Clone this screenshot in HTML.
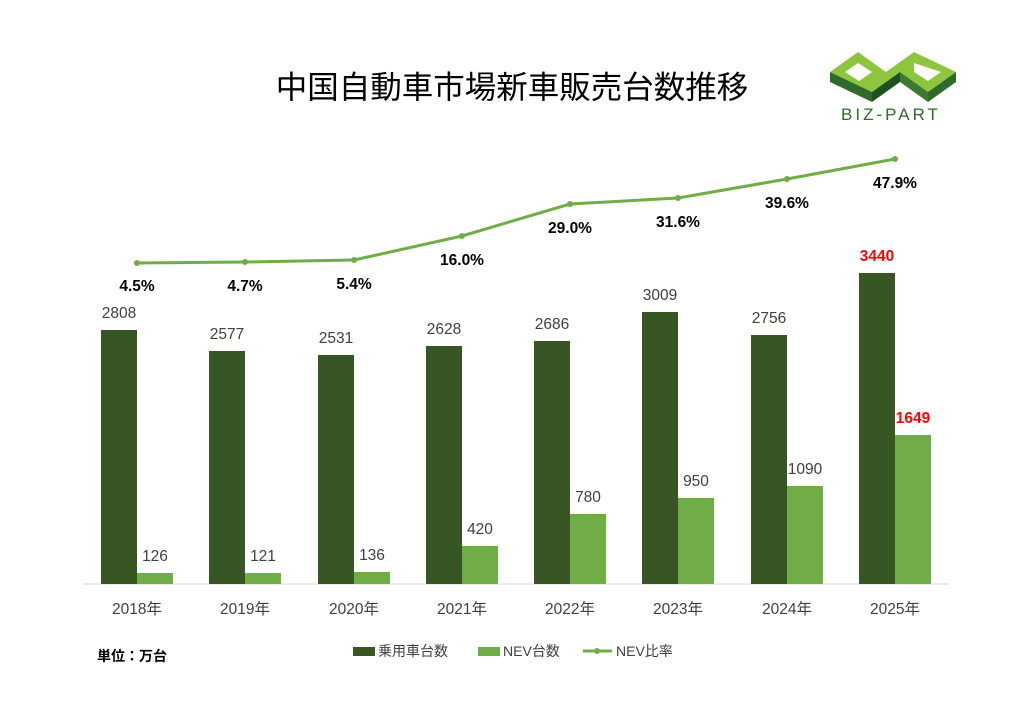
<!DOCTYPE html>
<html><head><meta charset="utf-8"><style>
body{margin:0;background:#fff}
svg text{font-family:"Liberation Sans","Noto Sans CJK JP",sans-serif}
</style></head><body>
<svg width="1024" height="709" viewBox="0 0 1024 709" xmlns="http://www.w3.org/2000/svg">
<rect width="1024" height="709" fill="#fff"/>
<text x="512" y="98" text-anchor="middle" font-size="31.5" fill="#000">中国自動車市場新車販売台数推移</text>
<g>
<polygon points="830,72 858,52 886,72 914,52 956,72 928,92 900,72 872,92" fill="#8cc63f"/>
<polygon points="830,72 872,92 872,102 830,82" fill="#2e6b2a"/>
<polygon points="872,92 900,72 900,82 872,102" fill="#1f5020"/>
<polygon points="928,92 956,72 956,82 928,102" fill="#2e6b2a"/>
<polygon points="900,72 928,92 928,102 900,82" fill="#3d7a30"/>
<polygon points="845,72 858,63 872,72 859,81" fill="#fff"/>
<polygon points="914,63 941,72 928,81 914,72" fill="#fff"/>
<text x="891" y="120" text-anchor="middle" font-size="17" letter-spacing="3" fill="#2e6b2a">BIZ-PART</text>
</g>
<line x1="83" y1="584" x2="949" y2="584" stroke="#d9d9d9" stroke-width="1"/>
<g font-size="15.5" fill="#404040" text-anchor="middle">
<rect x="101" y="330" width="36" height="254" fill="#375623"/>
<rect x="209" y="351" width="36" height="233" fill="#375623"/>
<rect x="318" y="355" width="36" height="229" fill="#375623"/>
<rect x="426" y="346" width="36" height="238" fill="#375623"/>
<rect x="534" y="341" width="36" height="243" fill="#375623"/>
<rect x="642" y="312" width="36" height="272" fill="#375623"/>
<rect x="751" y="335" width="36" height="249" fill="#375623"/>
<rect x="859" y="273" width="36" height="311" fill="#375623"/>
<rect x="137" y="573" width="36" height="11" fill="#70ad47"/>
<rect x="245" y="573" width="36" height="11" fill="#70ad47"/>
<rect x="354" y="572" width="36" height="12" fill="#70ad47"/>
<rect x="462" y="546" width="36" height="38" fill="#70ad47"/>
<rect x="570" y="514" width="36" height="70" fill="#70ad47"/>
<rect x="678" y="498" width="36" height="86" fill="#70ad47"/>
<rect x="787" y="486" width="36" height="98" fill="#70ad47"/>
<rect x="895" y="435" width="36" height="149" fill="#70ad47"/>
<text x="119" y="318">2808</text><text x="227" y="339">2577</text><text x="336" y="343">2531</text>
<text x="444" y="334">2628</text><text x="552" y="329">2686</text><text x="660" y="300">3009</text>
<text x="769" y="323">2756</text>
<text x="877" y="261" fill="#ff0000" font-weight="bold">3440</text>
<text x="155" y="561">126</text><text x="263" y="561">121</text><text x="372" y="560">136</text>
<text x="480" y="534">420</text><text x="588" y="502">780</text><text x="696" y="486">950</text>
<text x="805" y="474">1090</text>
<text x="913" y="423" fill="#ff0000" font-weight="bold">1649</text>
<text x="137" y="614">2018年</text><text x="245" y="614">2019年</text><text x="354" y="614">2020年</text>
<text x="462" y="614">2021年</text><text x="570" y="614">2022年</text><text x="678" y="614">2023年</text>
<text x="787" y="614">2024年</text><text x="895" y="614">2025年</text>
</g>
<polyline points="137,263 245,262 354,260 462,236 570,204 678,198 787,179 895,159" fill="none" stroke="#70ad47" stroke-width="3"/>
<g fill="#70ad47">
<circle cx="137" cy="263" r="3"/><circle cx="245" cy="262" r="3"/><circle cx="354" cy="260" r="3"/><circle cx="462" cy="236" r="3"/>
<circle cx="570" cy="204" r="3"/><circle cx="678" cy="198" r="3"/><circle cx="787" cy="179" r="3"/><circle cx="895" cy="159" r="3"/>
</g>
<g font-size="15.5" font-weight="bold" fill="#000" text-anchor="middle">
<text x="137" y="291">4.5%</text><text x="245" y="291">4.7%</text><text x="354" y="289">5.4%</text>
<text x="462" y="265">16.0%</text><text x="570" y="233">29.0%</text><text x="678" y="227">31.6%</text>
<text x="787" y="208">39.6%</text><text x="895" y="188">47.9%</text>
</g>
<text x="97" y="661" font-size="14" font-weight="bold" fill="#000">単位：万台</text>
<g font-size="14" fill="#404040">
<rect x="353" y="647" width="22" height="9" fill="#375623"/><text x="378" y="656">乗用車台数</text>
<rect x="478" y="647" width="22" height="9" fill="#70ad47"/><text x="503" y="656">NEV台数</text>
<line x1="583" y1="651" x2="612" y2="651" stroke="#70ad47" stroke-width="3"/><circle cx="597" cy="651" r="3" fill="#70ad47"/>
<text x="616" y="656">NEV比率</text>
</g>
</svg>
</body></html>
